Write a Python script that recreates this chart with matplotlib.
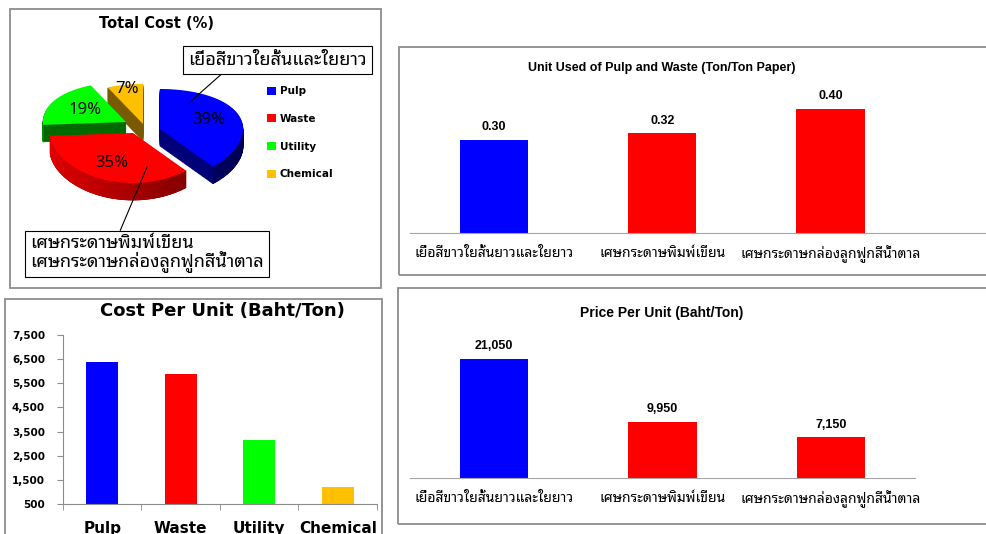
import numpy as np
import matplotlib
matplotlib.use("Agg")
import matplotlib.pyplot as plt
from matplotlib import font_manager
from matplotlib.ft2font import FT2Font
from matplotlib.patches import Polygon, Rectangle, Patch
from matplotlib.collections import PolyCollection
from matplotlib.colors import to_rgb
from matplotlib.ticker import FuncFormatter

W, H = 987, 534

# dane z wykresu
cost_items = ["Pulp", "Waste", "Utility", "Chemical"]
cost_share = [39, 35, 19, 7]
cost_per_unit = [6380, 5870, 3170, 1200]
materials = ["เยื่อสีขาวใยสั้นยาวและใยยาว", "เศษกระดาษพิมพ์เขียน",
             "เศษกระดาษกล่องลูกฟูกสีน้ำตาล"]
unit_used = [0.30, 0.32, 0.40]
price_per_unit = [21050, 9950, 7150]
pulp_note = "เยื่อสีขาวใยสั้นและใยยาว"
waste_note = "เศษกระดาษพิมพ์เขียน\nเศษกระดาษกล่องลูกฟูกสีน้ำตาล"

cost_colors = ["#0000FF", "#FF0000", "#00FF00", "#FFC000"]
side_colors = ["#000078", "#9A0000", "#006A00", "#7A5A00"]
rim_light = ["#0000B0", "#E00000", "#008C00", "#A07800"]
rim_dark = ["#000050", "#5A0000", "#005000", "#604800"]
material_colors = ["#0000FF", "#FF0000", "#FF0000"]


def find_thai_font():
    """Szukaj zainstalowanej czcionki z glifami tajskimi."""
    preferred = ["Tahoma", "Noto Sans Thai Looped", "Noto Serif Thai", "Leelawadee UI",
                 "Loma", "Garuda", "Kinnari", "Norasi", "Waree", "Noto Sans Thai",
                 "Noto Sans Thai UI"]
    found = []
    for f in font_manager.fontManager.ttflist:
        try:
            if FT2Font(f.fname).get_char_index(ord("ก")):
                found.append(f.name)
        except Exception:
            pass
    for name in preferred:
        if name in found:
            return name
    return found[0] if found else None


THAI = find_thai_font()
THAI_FAMILY = [THAI, "DejaVu Sans"] if THAI else ["DejaVu Sans"]
NARROW = ["Liberation Sans Narrow", "Liberation Sans", "DejaVu Sans"]


def box(l, t, r, b):
    return [l / W, 1 - b / H, (r - l) / W, (b - t) / H]


def frame(fig, l, t, r, b):
    fig.add_artist(Rectangle((l / W, 1 - b / H), (r - l) / W, (b - t) / H,
                             transform=fig.transFigure, fill=False,
                             ec="#8c8c8c", lw=1.3))


def mix(c1, c2, a):
    c1, c2 = np.array(to_rgb(c1)), np.array(to_rgb(c2))
    return tuple(c1 * (1 - a) + c2 * a)


fig = plt.figure(figsize=(W / 100, H / 100), dpi=100)
fig.patch.set_facecolor("white")

frame(fig, 10, 9, 381, 288)
frame(fig, 5, 299, 382, 545)
frame(fig, 399, 47, 995, 275)
frame(fig, 398, 288, 995, 524)

# --- wykres kołowy 3D (współrzędne w pikselach) ---
ax = fig.add_axes(box(10, 9, 381, 288))
ax.set_xlim(10, 381)
ax.set_ylim(288, 9)
ax.axis("off")

cx, cy, rx, depth = 133, 133, 83, 17
explode_px = [(27, -4), (0, 0), (-7, -11), (10, -9)]
label_r = [0.63, 0.65, 0.57, 0.9]


def ry_at(t):
    # perspektywa: tył elipsy niższy niż przód
    return 45 - 5 * np.sin(t)


fracs = np.array(cost_share) / sum(cost_share)
ends = 90 - 360 * np.cumsum(fracs)
starts = ends + 360 * fracs

slices = []
for i in range(len(cost_items)):
    mid = np.radians((starts[i] + ends[i]) / 2)
    ox, oy = cx + explode_px[i][0], cy + explode_px[i][1]
    t = np.radians(np.linspace(starts[i], ends[i], 90))
    ax_pts = ox + rx * np.cos(t)
    ay_pts = oy - ry_at(t) * np.sin(t)
    xs = np.concatenate([[ox], ax_pts])
    ys = np.concatenate([[oy], ay_pts])
    slices.append((xs, ys, ox, oy, mid, t, ax_pts, ay_pts))

# boki (wyciągnięcie w dół)
for d in range(depth, 0, -1):
    for i, s in enumerate(slices):
        xs, ys = s[0], s[1]
        ax.add_patch(Polygon(np.column_stack([xs, ys + d]), closed=True,
                             fc=side_colors[i], ec=side_colors[i], lw=0.5))
# przednia krawędź z gradientem
for i, s in enumerate(slices):
    t, px, py = s[5], s[6], s[7]
    quads, cols = [], []
    for j in range(len(t) - 1):
        if np.sin(t[j]) > 0 and np.sin(t[j + 1]) > 0:
            continue
        quads.append([(px[j], py[j]), (px[j + 1], py[j + 1]),
                      (px[j + 1], py[j + 1] + depth), (px[j], py[j] + depth)])
        a = np.clip((px[j] - (cx - rx)) / (2 * rx + 30), 0, 1)
        cols.append(mix(rim_light[i], rim_dark[i], a))
    if quads:
        ax.add_collection(PolyCollection(quads, facecolors=cols, edgecolors=cols,
                                         lw=0.5))
# górne powierzchnie
for i, s in enumerate(slices):
    xs, ys, ox, oy, mid = s[:5]
    ax.add_patch(Polygon(np.column_stack([xs, ys]), closed=True,
                         fc=cost_colors[i], ec="none"))
    ax.text(ox + label_r[i] * rx * np.cos(mid),
            oy - label_r[i] * ry_at(mid) * np.sin(mid),
            f"{cost_share[i]}%", ha="center", va="center", fontsize=12,
            family=["Noto Sans", "DejaVu Sans"])

ax.text(157, 23, "Total Cost (%)", ha="center", va="center", fontsize=10.5,
        fontweight="bold", family="DejaVu Sans")

handles = [Patch(fc=c, ec="none") for c in cost_colors]
ax.legend(handles, cost_items, loc="upper left", bbox_to_anchor=(258, 77),
          bbox_transform=ax.transData, frameon=False,
          prop={"family": "DejaVu Sans", "weight": "bold", "size": 7.5},
          handlelength=0.8, handleheight=0.8, handletextpad=0.4, labelspacing=1.7)

ax.annotate(pulp_note, xy=(190, 102), xytext=(188, 60), ha="left", va="center",
            fontsize=13, family=THAI_FAMILY,
            bbox=dict(boxstyle="square,pad=0.28", fc="white", ec="black", lw=0.8),
            arrowprops=dict(arrowstyle="-", color="black", lw=0.8,
                            relpos=(0.22, 0), shrinkA=0, shrinkB=0))
ax.annotate(waste_note, xy=(147, 167), xytext=(30, 253), ha="left", va="center",
            fontsize=13, family=THAI_FAMILY, linespacing=0.88,
            bbox=dict(boxstyle="square,pad=0.28", fc="white", ec="black", lw=0.8),
            arrowprops=dict(arrowstyle="-", color="black", lw=0.8,
                            relpos=(0.38, 1), shrinkA=0, shrinkB=0))

# --- koszt jednostkowy ---
ax2 = fig.add_axes(box(63, 335, 377, 504))
x = np.arange(len(cost_items))
ax2.bar(x, cost_per_unit, width=0.41, color=cost_colors)
ax2.set_xlim(-0.5, len(cost_items) - 0.5)
ax2.set_ylim(500, 7500)
ax2.set_yticks(np.arange(500, 7501, 1000))
ax2.yaxis.set_major_formatter(FuncFormatter(lambda v, p: f"{v:,.0f}"))
ax2.set_xticks(x)
ax2.set_xticklabels(cost_items, fontsize=11, fontweight="bold", family="DejaVu Sans")
ax2.set_xticks(np.arange(-0.5, len(cost_items)), minor=True)
ax2.tick_params(axis="x", which="major", length=0, pad=12)
ax2.tick_params(axis="x", which="minor", length=4, color="#8c8c8c")
ax2.tick_params(axis="y", length=4, color="#8c8c8c", labelsize=7.5, pad=9)
for lbl in ax2.get_yticklabels():
    lbl.set_fontweight("bold")
for s in ["top", "right"]:
    ax2.spines[s].set_visible(False)
for s in ["left", "bottom"]:
    ax2.spines[s].set_color("#8c8c8c")
fig.text(222 / W, 1 - 311 / H, "Cost Per Unit (Baht/Ton)", ha="center", va="center",
         fontsize=13, fontweight="bold", family="DejaVu Sans")


def material_bars(axm, values, ymax, fmt, right):
    xm = np.arange(len(materials))
    bars = axm.bar(xm, values, width=0.405, color=material_colors)
    axm.bar_label(bars, labels=[fmt(v) for v in values], padding=5, fontsize=9,
                  fontweight="bold", family=NARROW)
    axm.set_xlim(-0.5, right)
    axm.set_ylim(0, ymax)
    axm.set_yticks([])
    axm.set_xticks(xm)
    axm.set_xticklabels(materials, fontsize=10, fontweight="bold", family=THAI_FAMILY)
    axm.tick_params(axis="x", length=0, pad=9)
    for s in ["top", "right", "left"]:
        axm.spines[s].set_visible(False)
    axm.spines["bottom"].set_color("#a6a6a6")


ax3 = fig.add_axes(box(410, 93, 987, 233))
material_bars(ax3, unit_used, 0.45, lambda v: f"{v:.2f}", 2.93)
fig.text(662 / W, 1 - 68 / H, "Unit Used of Pulp and Waste (Ton/Ton Paper)",
         ha="center", va="center", fontsize=9, fontweight="bold", family=NARROW)

ax4 = fig.add_axes(box(410, 342, 915, 478))
material_bars(ax4, price_per_unit, 24000, lambda v: f"{v:,.0f}", 2.5)
fig.text(662 / W, 1 - 313 / H, "Price Per Unit (Baht/Ton)", ha="center", va="center",
         fontsize=10, fontweight="bold", family=NARROW)

fig.savefig("out.png", dpi=100)
